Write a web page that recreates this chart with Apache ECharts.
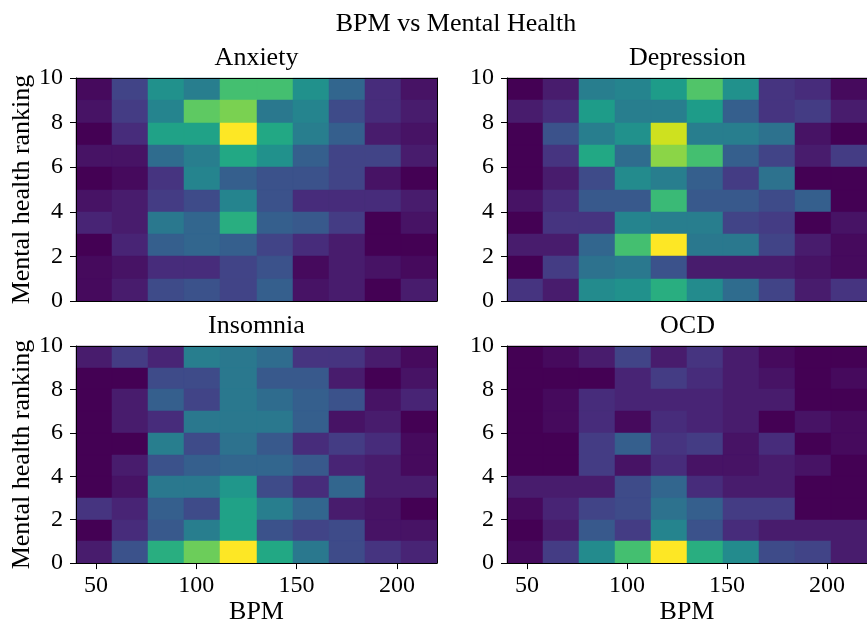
<!DOCTYPE html>
<html>
<head>
<meta charset="utf-8">
<title>BPM vs Mental Health</title>
<script src="https://cdn.jsdelivr.net/npm/echarts@6/dist/echarts.min.js"></script>
<style>
  html, body { margin: 0; padding: 0; background: #fff; }
  #chart { width: 867px; height: 626px; }
</style>
</head>
<body>
<div id="chart"></div>
<script>
// 2D histogram bin edges
const bpmEdges = [40, 58, 76, 94, 112, 130, 148, 166, 184, 202, 220];
const rankEdges = [0, 1, 2, 3, 4, 5, 6, 7, 8, 9, 10];

// Tick labels
const bpmTicks = [50, 100, 150, 200];
const rankTicks = [0, 2, 4, 6, 8, 10];

// Respondent counts per bin. Each array lists rows from the top
// (ranking 9-10) down to the bottom (ranking 0-1), columns left to right by BPM.
const anxietyCounts = [
  [1, 8, 20, 17, 28, 28, 20, 13, 5, 2],
  [2, 7, 18, 30, 32, 16, 18, 9, 5, 3],
  [0, 5, 23, 23, 40, 24, 17, 12, 3, 2],
  [2, 2, 14, 17, 24, 20, 12, 8, 8, 3],
  [0, 1, 6, 18, 12, 10, 10, 8, 2, 0],
  [2, 3, 7, 9, 18, 10, 5, 5, 5, 3],
  [4, 3, 16, 13, 25, 12, 11, 7, 0, 2],
  [0, 4, 12, 13, 12, 8, 5, 3, 0, 0],
  [1, 2, 5, 5, 8, 10, 1, 3, 2, 1],
  [1, 3, 9, 10, 8, 12, 2, 3, 0, 3]
];

const depressionCounts = [
  [0, 3, 17, 18, 22, 29, 20, 6, 5, 1],
  [3, 5, 22, 17, 17, 22, 12, 6, 7, 3],
  [0, 10, 17, 20, 37, 17, 17, 15, 2, 0],
  [0, 6, 24, 14, 33, 28, 12, 8, 3, 7],
  [0, 3, 9, 19, 17, 12, 7, 15, 0, 0],
  [2, 5, 11, 11, 27, 11, 11, 9, 12, 0],
  [0, 6, 6, 18, 17, 17, 8, 7, 0, 2],
  [3, 3, 13, 28, 40, 16, 16, 8, 3, 1],
  [0, 7, 15, 16, 10, 3, 3, 3, 2, 1],
  [6, 3, 19, 20, 25, 19, 14, 8, 3, 6]
];

const insomniaCounts = [
  [3, 7, 4, 17, 16, 14, 6, 6, 3, 1],
  [0, 0, 9, 9, 16, 11, 11, 3, 0, 2],
  [0, 3, 12, 8, 16, 14, 12, 10, 2, 4],
  [0, 3, 5, 16, 16, 16, 12, 2, 3, 0],
  [0, 0, 17, 9, 15, 11, 5, 7, 5, 1],
  [0, 3, 10, 12, 13, 13, 11, 4, 3, 1],
  [0, 2, 16, 16, 21, 9, 5, 13, 3, 3],
  [6, 4, 12, 9, 23, 17, 13, 3, 2, 0],
  [0, 5, 11, 17, 23, 10, 8, 9, 2, 2],
  [3, 10, 25, 31, 40, 24, 16, 9, 6, 4]
];

const ocdCounts = [
  [0, 1, 3, 8, 3, 6, 3, 1, 0, 0],
  [0, 0, 0, 4, 7, 5, 3, 2, 0, 1],
  [0, 1, 5, 4, 4, 4, 3, 3, 0, 0],
  [0, 1, 5, 1, 5, 4, 3, 0, 2, 1],
  [0, 0, 7, 12, 6, 7, 2, 5, 0, 1],
  [0, 0, 7, 2, 5, 2, 2, 3, 2, 0],
  [3, 3, 3, 9, 13, 5, 3, 3, 0, 0],
  [1, 4, 8, 9, 15, 12, 7, 7, 0, 0],
  [0, 3, 11, 7, 18, 10, 5, 3, 3, 3],
  [1, 7, 19, 28, 40, 25, 19, 9, 8, 3]
];

const panelTitles = ['Anxiety', 'Depression', 'Insomnia', 'OCD'];
const panelCounts = [anxietyCounts, depressionCounts, insomniaCounts, ocdCounts];

// viridis colour ramp
const viridis = [
  '#440154', '#471365', '#482475', '#463480', '#414487', '#3b528b', '#355f8d',
  '#2f6c8e', '#2a788e', '#25848e', '#21918c', '#1e9c89', '#22a884', '#2fb47c',
  '#44bf70', '#5ec962', '#7ad151', '#9bd93c', '#bddf26', '#dfe318', '#fde725'
];

const FONT = "'Liberation Serif', 'Times New Roman', serif";
const PLOT_W = 361, PLOT_H = 223;
const layout = [
  { left: 76, top: 78 },
  { left: 507, top: 78 },
  { left: 76, top: 346 },
  { left: 507, top: 346 }
];

// turn a count matrix into cells [x0, x1, y0, y1, count]
function toCells(counts) {
  const cells = [];
  const nRows = counts.length;
  counts.forEach((row, r) => {
    const yBin = nRows - 1 - r;
    row.forEach((c, k) => {
      cells.push([bpmEdges[k], bpmEdges[k + 1], rankEdges[yBin], rankEdges[yBin + 1], c]);
    });
  });
  return cells;
}

function renderCell(params, api) {
  const a = api.coord([api.value(0), api.value(3)]);
  const b = api.coord([api.value(1), api.value(2)]);
  const x = Math.round(a[0]), y = Math.round(a[1]);
  const color = api.visual('color');
  return {
    type: 'rect',
    shape: { x: x, y: y, width: Math.round(b[0]) - x, height: Math.round(b[1]) - y },
    style: { fill: color, stroke: color, lineWidth: 0.5 }
  };
}

const axisLineStyle = { color: '#000', width: 1 };
const labelStyle = { fontFamily: FONT, fontSize: 24, color: '#000' };

const grids = [], xAxes = [], yAxes = [], series = [], visualMaps = [];
const titles = [{
  text: 'BPM vs Mental Health',
  left: 456, top: 11, textAlign: 'center', padding: 0,
  textStyle: { fontFamily: FONT, fontSize: 26, fontWeight: 'normal', color: '#000' }
}];

panelCounts.forEach((counts, i) => {
  const pos = layout[i];
  const bottomRow = i >= 2;
  const leftCol = i % 2 === 0;
  grids.push({ left: pos.left, top: pos.top, width: PLOT_W, height: PLOT_H, containLabel: false });

  titles.push({
    text: panelTitles[i],
    left: pos.left + PLOT_W / 2, top: pos.top - 33, textAlign: 'center', padding: 0,
    textStyle: { fontFamily: FONT, fontSize: 26, fontWeight: 'normal', color: '#000' }
  });

  // bottom and top x axes (the top one only draws the frame)
  xAxes.push({
    type: 'value', gridIndex: i, min: 40, max: 220, position: 'bottom', z: 10,
    axisLine: { show: true, onZero: false, lineStyle: axisLineStyle },
    axisTick: { show: bottomRow, length: 6, customValues: bpmTicks, lineStyle: axisLineStyle },
    axisLabel: Object.assign({ show: bottomRow, customValues: bpmTicks, margin: 11 }, labelStyle),
    splitLine: { show: false },
    name: bottomRow ? 'BPM' : '', nameLocation: 'middle', nameGap: 33,
    nameTextStyle: { fontFamily: FONT, fontSize: 26, color: '#000' }
  });
  xAxes.push({
    type: 'value', gridIndex: i, min: 40, max: 220, position: 'top', z: 10,
    axisLine: { show: true, onZero: false, lineStyle: axisLineStyle },
    axisTick: { show: false }, axisLabel: { show: false }, splitLine: { show: false }
  });

  yAxes.push({
    type: 'value', gridIndex: i, min: 0, max: 10, interval: 2, position: 'left', z: 10,
    axisLine: { show: true, onZero: false, lineStyle: axisLineStyle },
    axisTick: { show: true, length: 6, lineStyle: axisLineStyle },
    axisLabel: Object.assign({ margin: 13, customValues: rankTicks }, labelStyle),
    splitLine: { show: false },
    name: leftCol ? 'Mental health ranking' : '', nameLocation: 'middle', nameGap: 39,
    nameTextStyle: { fontFamily: FONT, fontSize: 26, color: '#000' }
  });
  yAxes.push({
    type: 'value', gridIndex: i, min: 0, max: 10, position: 'right', z: 10,
    axisLine: { show: true, onZero: false, lineStyle: axisLineStyle },
    axisTick: { show: false }, axisLabel: { show: false }, splitLine: { show: false }
  });

  series.push({
    type: 'custom',
    name: panelTitles[i],
    xAxisIndex: 2 * i, yAxisIndex: 2 * i,
    data: toCells(counts),
    encode: { x: [0, 1], y: [2, 3] },
    renderItem: renderCell,
    silent: true,
    z: 2
  });

  visualMaps.push({
    type: 'continuous', show: false, seriesIndex: i, dimension: 4,
    min: 0, max: Math.max(...counts.flat()),
    inRange: { color: viridis }
  });
});

const chart = echarts.init(document.getElementById('chart'), null, { renderer: 'canvas' });
chart.setOption({
  backgroundColor: '#fff',
  animation: false,
  title: titles,
  grid: grids,
  xAxis: xAxes,
  yAxis: yAxes,
  visualMap: visualMaps,
  series: series
});
</script>
</body>
</html>
